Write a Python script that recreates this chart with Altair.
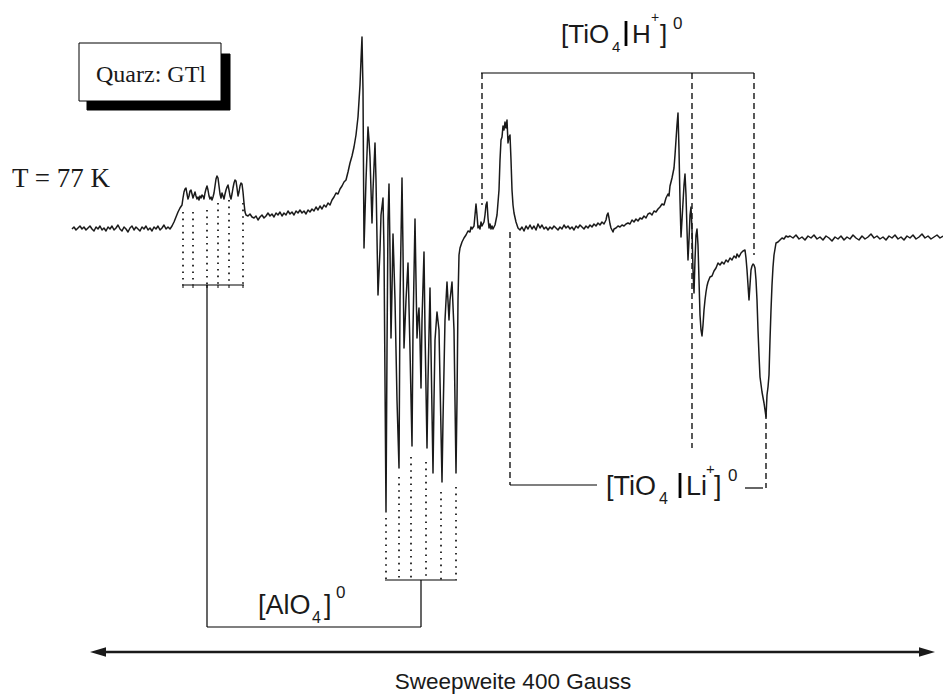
import altair as alt
import pandas as pd

W, H = 943, 695

# ---- EPR spectrum trace (field position, signal position) ----
trace_x = [72,74,76,78,80,82,84,86,88,90,92,94,96,98,100,102,104,106,108,110,112,114,116,118,120,122,124,126,128,130,
           132,134,136,138,140,142,144,146,148,150,152,154,156,158,160,162,164,166,168,170,172,174,176,178,180,182,183,184,185,186,
           187,188,189,190,191,192,193,194,195,196,197,198,199,200,201,202,203,204,205,206,207,208,209,210,211,212,213,214,215,216,
           217,218,219,220,221,222,223,224,225,226,227,228,229,230,231,232,233,234,235,236,237,238,239,240,241,242,243,244,245,246,
           248,250,252,254,256,258,260,262,264,266,268,270,272,274,276,278,280,282,284,286,288,290,292,294,296,298,300,302,304,306,
           308,310,312,314,316,318,320,322,324,326,328,330,332,334,336,338,340,342,344,346,348,350,352,354,356,358,360,361,362,363,
           364,366,368,369,370,371,372,373,375,376,378,380,381,383,384,386,387,388,389,390,391,392,393,395,397,399,400,402,403,404,
           406,408,410,412,413,415,416,417,418,419,420,421,422,424,425,427,428,430,431,433,434,435,437,439,440,442,443,445,447,449,
           450,452,454,456,457,458,459,460,462,464,466,468,470,471,472,474,475,476,477,478,479,480,481,482,484,485,486,487,488,489,
           490,491,492,493,495,497,499,500,501,502,503,504,505,506,507,508,509,510,511,512,513,514,516,518,520,522,524,526,528,530,
           532,534,536,538,540,542,544,546,548,550,552,554,556,558,560,562,564,566,568,570,572,574,576,578,580,582,584,586,588,590,
           592,594,596,598,600,602,604,606,607,608,609,610,611,612,613,614,616,618,620,622,624,626,628,630,632,634,636,638,640,642,
           644,646,648,650,652,654,656,658,660,662,664,666,668,669,670,672,674,675,676,677,678,679,680,681,682,684,685,686,687,688,
           689,690,691,692,693,694,695,696,697,698,699,700,701,702,703,704,705,706,707,708,710,712,714,716,718,720,722,724,726,728,
           730,732,734,736,737,739,741,743,745,746,747,748,749,750,751,752,753,754,755,756,757,758,759,760,762,764,765,766,767,768,
           769,770,771,772,773,774,776,778,780,782,784,786,788,790,793,796,799,802,805,808,811,814,817,820,823,826,829,832,835,838,
           841,844,847,850,853,856,859,862,865,868,871,874,877,880,883,886,889,892,895,898,901,904,907,910,913,916,919,922,925,928,
           931,934,937,940,943]
trace_y = [229,227,230,228,226,229,227,230,228,226,229,231,227,229,226,230,228,231,227,229,226,230,228,225,229,231,227,229,232,228,
           226,230,227,229,231,227,229,226,230,228,231,227,229,226,230,228,225,229,227,229,226,222,217,212,208,205,198,192,189,188,
           194,199,196,191,190,194,198,195,192,196,199,197,200,196,198,195,196,199,193,189,186,190,196,199,197,200,197,193,186,179,
           176,178,186,194,198,193,196,199,194,190,187,185,190,196,199,194,188,183,180,181,188,196,192,186,183,184,192,203,212,215,
           216,214,217,218,216,220,217,215,218,216,213,216,214,217,213,215,212,216,213,215,211,214,212,215,211,213,210,213,211,214,
           210,212,209,211,207,210,206,209,205,207,203,205,200,197,193,194,189,186,182,180,172,163,156,147,135,117,85,60,37,90,
           248,180,127,140,157,190,223,190,143,180,295,250,215,198,250,512,350,220,184,250,338,290,234,300,400,468,300,178,250,348,
           300,263,350,446,330,219,280,338,318,308,340,388,320,252,330,448,380,288,350,473,400,340,312,330,380,482,420,320,282,320,
           300,282,330,473,400,300,255,248,242,238,235,231,232,227,229,226,215,204,215,228,226,229,222,226,222,215,205,202,218,228,
           224,229,226,229,225,215,190,160,140,137,126,130,122,128,120,143,137,135,160,190,205,213,222,228,230,227,231,226,229,225,
           229,226,230,224,228,225,229,227,230,227,229,226,228,230,227,229,225,228,226,229,227,230,226,228,225,227,229,226,228,225,
           227,224,226,223,225,222,224,220,215,213,218,224,228,230,232,229,228,226,227,225,226,224,223,224,220,222,219,221,218,219,
           216,218,214,213,215,211,212,209,207,204,205,198,194,196,186,178,168,155,140,125,113,150,200,237,220,185,174,195,230,260,
           240,215,207,230,270,293,260,235,229,245,280,315,330,336,325,310,300,292,286,282,277,276,271,268,263,265,262,264,260,262,
           258,260,256,258,254,257,253,251,250,258,270,285,300,285,270,266,264,265,268,280,300,330,355,377,392,403,410,417,395,387,
           375,340,310,285,267,255,243,242,240,238,239,236,237,236,238,235,239,237,240,236,238,235,239,237,240,236,238,241,237,239,
           236,240,237,239,235,238,240,236,239,237,234,238,236,239,237,240,236,238,235,239,237,240,236,238,235,239,237,234,238,236,
           239,237,235,238,236]

# ---- annotation geometry ----
alo_left_x = [183, 193, 207, 218, 229, 243]
alo_left_top = [212, 212, 210, 203, 200, 203]
alo_left_base = 285
alo_right_x = [386, 399, 411, 426, 441, 456]
alo_right_top = [518, 477, 457, 462, 492, 487]
alo_right_base = 580

solid_x = [182, 385, 207, 421, 207, 481, 510, 745]
solid_x2 = [244, 457, 207, 421, 421, 754, 597, 763]
solid_y = [285, 580, 285, 580, 627, 73, 485, 488]
solid_y2 = [285, 580, 627, 627, 627, 73, 485, 488]

dash_x = [482, 692, 754, 510, 766]
dash_y = [73, 73, 73, 232, 413]
dash_y2 = [205, 448, 255, 485, 488]

bar_x = [626, 680]
bar_y = [21, 473]
bar_y2 = [46, 498]

sans_texts = ["[TiO", "4", "H", "+", "]", "0",
              "[TiO", "4", "Li", "+", "]", "0",
              "[AlO", "4", "]", "0"]
sans_x = [561, 612, 632, 651, 660, 673,
          606, 659, 686, 706, 714, 728,
          258, 312, 324, 336]
sans_y = [43, 52, 43, 22, 43, 29,
          495, 504, 495, 474, 495, 481,
          614, 623, 614, 598]
sans_size = [26, 15, 26, 14, 26, 17,
             27, 16, 27, 15, 27, 17,
             27, 16, 27, 17]

serif_texts = ["Quarz: GTl", "T = 77 K"]
serif_x = [151, 12]
serif_y = [82, 187]
serif_size = [24, 27]
serif_align = ["center", "left"]

sweep_label = ["Sweepweite 400 Gauss"]

xs = alt.Scale(domain=[0, W], nice=False, zero=False)
ys = alt.Scale(domain=[0, H], nice=False, zero=False, reverse=True)


def X(f="x"):
    return alt.X(f"{f}:Q", scale=xs, axis=None)


def Y(f="y"):
    return alt.Y(f"{f}:Q", scale=ys, axis=None)


trace = pd.DataFrame({"x": trace_x, "y": trace_y, "i": range(len(trace_x))})
line = alt.Chart(trace).mark_line(color="#1a1a1a", strokeWidth=1.5, strokeJoin="round").encode(
    x=X(), y=Y(), order="i:Q")

dots_df = pd.DataFrame({
    "x": alo_left_x + alo_right_x,
    "y": alo_left_top + alo_right_top,
    "y2": [alo_left_base] * 6 + [alo_right_base] * 6,
})
dots = alt.Chart(dots_df).mark_rule(color="black", strokeWidth=1.6, strokeDash=[1.6, 5]).encode(
    x=X(), y=Y(), y2="y2:Q")

ticks_df = pd.DataFrame({"x": alo_left_x, "y": [alo_left_base] * 6, "y2": [alo_left_base + 3] * 6})
ticks = alt.Chart(ticks_df).mark_rule(color="black", strokeWidth=1).encode(x=X(), y=Y(), y2="y2:Q")

solid_df = pd.DataFrame({"x": solid_x, "x2": solid_x2, "y": solid_y, "y2": solid_y2})
solid = alt.Chart(solid_df).mark_rule(color="black", strokeWidth=1.2).encode(
    x=X(), x2="x2:Q", y=Y(), y2="y2:Q")

dash_df = pd.DataFrame({"x": dash_x, "y": dash_y, "y2": dash_y2})
dashed = alt.Chart(dash_df).mark_rule(color="black", strokeWidth=1.3, strokeDash=[6, 4]).encode(
    x=X(), y=Y(), y2="y2:Q")

bar_df = pd.DataFrame({"x": bar_x, "y": bar_y, "y2": bar_y2})
bars = alt.Chart(bar_df).mark_rule(color="black", strokeWidth=2.8).encode(x=X(), y=Y(), y2="y2:Q")

box_df = pd.DataFrame({"x": [87, 79], "x2": [230, 221], "y": [54, 43], "y2": [110, 101],
                       "fill": ["black", "white"]})
box = alt.Chart(box_df).mark_rect(stroke="black", strokeWidth=1).encode(
    x=X(), x2="x2:Q", y=Y(), y2="y2:Q", fill=alt.Fill("fill:N", scale=None))

arrow_df = pd.DataFrame({"x": [97], "x2": [928], "y": [652]})
arrow = alt.Chart(arrow_df).mark_rule(color="#1a1a1a", strokeWidth=2.4).encode(x=X(), x2="x2:Q", y=Y())
heads_df = pd.DataFrame({"x": [98, 927], "y": [652, 652],
                         "shape": ["M-1,0L1,-0.6L1,0.6Z", "M1,0L-1,-0.6L-1,0.6Z"]})
heads = alt.Chart(heads_df).mark_point(filled=True, color="#1a1a1a", opacity=1, size=256).encode(
    x=X(), y=Y(), shape=alt.Shape("shape:N", scale=None))

sans_df = pd.DataFrame({"t": sans_texts, "x": sans_x, "y": sans_y, "s": sans_size})
sans_l = alt.Chart(sans_df).mark_text(
    font="Liberation Sans", align="left", baseline="alphabetic", color="#1a1a1a").encode(
    x=X(), y=Y(), text="t:N", size=alt.Size("s:Q", scale=None))

sweep_df = pd.DataFrame({"t": sweep_label, "x": [513], "y": [689]})
sweep = alt.Chart(sweep_df).mark_text(
    font="Liberation Sans", fontSize=22.5, align="center",
    baseline="alphabetic", color="#1a1a1a").encode(x=X(), y=Y(), text="t:N")

serif_df = pd.DataFrame({"t": serif_texts, "x": serif_x, "y": serif_y, "s": serif_size, "a": serif_align})
serif_c = alt.Chart(serif_df[serif_df.a == "center"]).mark_text(
    font="Liberation Serif", align="center", baseline="alphabetic", color="#1a1a1a").encode(
    x=X(), y=Y(), text="t:N", size=alt.Size("s:Q", scale=None))
serif_l = alt.Chart(serif_df[serif_df.a == "left"]).mark_text(
    font="Liberation Serif", align="left", baseline="alphabetic", color="#1a1a1a").encode(
    x=X(), y=Y(), text="t:N", size=alt.Size("s:Q", scale=None))

chart = alt.layer(box, dots, ticks, solid, dashed, bars, line, arrow, heads,
                  sans_l, sweep, serif_c, serif_l).properties(
    width=W, height=H, padding=0, autosize=alt.AutoSizeParams(type="none"),
    background="white"
).configure_view(stroke=None)

chart.save("out.html", embed_options={"renderer": "svg", "actions": False})
